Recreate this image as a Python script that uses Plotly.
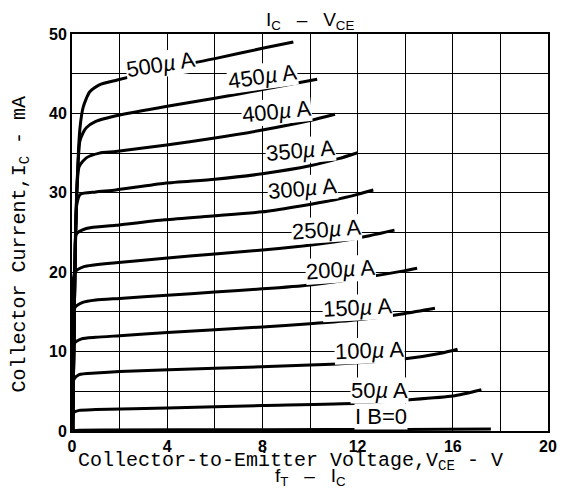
import plotly.graph_objects as go

# Base current labels (µA) and curves: V_CE (V) vs I_C (mA)
labels = ["I B=0", "50", "100", "150", "200", "250", "300", "350", "400", "450", "500"]

v_0 = [0.0, 0.3, 8, 14, 17.6]
i_0 = [0.0, 0.1, 0.15, 0.2, 0.25]

v_50 = [0.03, 0.06, 0.3, 1, 4, 8, 12, 14, 16, 17.2]
i_50 = [0, 2.3, 2.6, 2.7, 2.9, 3.2, 3.5, 3.9, 4.4, 5.2]

v_100 = [0.03, 0.08, 0.3, 1, 2, 6, 10, 12, 14, 15.5, 16.2]
i_100 = [0, 6.5, 7.1, 7.3, 7.5, 7.9, 8.3, 8.6, 9.1, 9.8, 10.3]

v_150 = [0.03, 0.09, 0.4, 1, 2, 4, 8, 10, 12, 14, 15.25]
i_150 = [0, 11.0, 11.6, 11.8, 12.0, 12.4, 13.1, 13.5, 14.0, 14.8, 15.45]

v_200 = [0.03, 0.11, 0.45, 1, 2, 4, 6, 8, 10, 12, 14, 14.5]
i_200 = [0, 15.5, 16.2, 16.5, 16.7, 17.1, 17.5, 17.9, 18.4, 19.2, 20.2, 20.5]

v_250 = [0.03, 0.12, 0.5, 1.84, 3.9, 6, 8, 9.4, 11, 12.5, 13.55]
i_250 = [0, 20.0, 20.7, 21.2, 21.75, 22.3, 22.8, 23.2, 23.8, 24.6, 25.3]

v_300 = [0.03, 0.13, 0.18, 0.6, 1.84, 3.9, 6, 8, 9.4, 11, 12, 12.66]
i_300 = [0, 22.0, 24.8, 25.5, 25.9, 26.6, 27.1, 27.6, 28.25, 29.1, 29.8, 30.35]

v_350 = [0.03, 0.12, 0.2, 0.35, 1, 1.84, 3.9, 6, 8, 10, 11.2, 12.0]
i_350 = [0, 20.0, 28.5, 29.8, 30.1, 30.35, 31.2, 31.7, 32.4, 33.4, 34.3, 35.05]

v_400 = [0.03, 0.12, 0.2, 0.3, 0.6, 1.15, 1.84, 3.9, 6, 8, 10, 11.05]
i_400 = [0, 20.0, 30.0, 33.3, 34.4, 35.0, 35.2, 36.0, 36.9, 37.9, 39.1, 39.9]

v_450 = [0.03, 0.12, 0.2, 0.33, 0.47, 0.6, 1, 2, 4, 6, 8, 10.3]
i_450 = [0, 20.0, 30.0, 36.5, 37.6, 38.2, 39.0, 39.8, 40.9, 41.9, 43.0, 44.3]

v_500 = [0.03, 0.12, 0.2, 0.33, 0.47, 0.74, 1.15, 1.9, 4, 6, 8, 9.3]
i_500 = [0, 20.0, 30.0, 38.0, 40.8, 42.7, 43.6, 44.2, 45.7, 46.9, 48.2, 49.0]

# label anchor positions (V, mA) and tilt
lab_v = [13.0, 12.9, 12.5, 12.0, 11.3, 10.7, 9.7, 9.6, 8.6, 8.0, 3.7]
lab_i = [1.8, 5.1, 10.2, 15.5, 20.3, 25.4, 30.5, 35.3, 40.2, 44.6, 46.2]
lab_ang = [0, 0, -2, -3, -4, -4, -5, -5, -6, -8, -9]

curves = [(v_0, i_0), (v_50, i_50), (v_100, i_100), (v_150, i_150), (v_200, i_200),
          (v_250, i_250), (v_300, i_300), (v_350, i_350), (v_400, i_400),
          (v_450, i_450), (v_500, i_500)]

x_ticks = [0, 4, 8, 12, 16, 20]
y_ticks = [0, 10, 20, 30, 40, 50]

fig = go.Figure()
for (vx, iy) in curves:
    fig.add_trace(go.Scatter(x=vx, y=iy, mode="lines",
                             line=dict(color="black", width=3, shape="spline", smoothing=0.6),
                             showlegend=False, hoverinfo="skip"))

label_font = dict(family="Liberation Sans", size=22, color="black")
for k, name in enumerate(labels):
    txt = name if k == 0 else f"{name}<i>µ</i> A"
    fig.add_annotation(x=lab_v[k], y=lab_i[k], text=txt, showarrow=False,
                       textangle=lab_ang[k], font=label_font,
                       bgcolor="white", borderpad=0)

title_font = dict(family="Liberation Sans", size=19, color="black")
fig.add_annotation(x=0.5, y=1.0, xref="paper", yref="paper", yanchor="top", yshift=27,
                   text="I<sub>C</sub>   –   V<sub>CE</sub>", showarrow=False, font=title_font)
fig.add_annotation(x=0.5, y=0, xref="paper", yref="paper", yanchor="bottom", yshift=-60,
                   text="f<sub>T</sub>   –   I<sub>C</sub>", showarrow=False, font=title_font)

axis_title_font = dict(family="Liberation Mono", size=20, color="black")
fig.add_annotation(x=0.46, y=0, xref="paper", yref="paper", yanchor="middle", yshift=-30,
                   text="Collector-to-Emitter Voltage,V<sub>CE</sub> - V",
                   showarrow=False, font=axis_title_font)
fig.add_annotation(x=0, y=0.47, xref="paper", yref="paper", xanchor="center", xshift=-52,
                   textangle=-90, text="Collector Current,I<sub>C</sub> - mA",
                   showarrow=False, font=axis_title_font)

fig.update_xaxes(range=[0, 20], tickvals=x_ticks, ticktext=[str(t) for t in x_ticks],
                 showgrid=True, gridcolor="black", gridwidth=1,
                 minor=dict(dtick=2, showgrid=True, gridcolor="black", gridwidth=1),
                 showline=True, linecolor="black", linewidth=2, mirror=True,
                 ticks="", zeroline=False, automargin=False, ticklabeloverflow="allow",
                 tickfont=dict(family="Liberation Sans", size=16, color="black", weight="bold"))
fig.update_yaxes(range=[0, 50], tickvals=y_ticks, ticktext=[str(t) for t in y_ticks],
                 showgrid=True, gridcolor="black", gridwidth=1,
                 minor=dict(dtick=5, showgrid=True, gridcolor="black", gridwidth=1),
                 showline=True, linecolor="black", linewidth=2, mirror=True,
                 ticks="", zeroline=False, automargin=False, ticklabeloverflow="allow",
                 tickfont=dict(family="Liberation Sans", size=16, color="black", weight="bold"))

# page body has an 8px margin; keep the figure small enough to stay in the window
fig.update_layout(width=550, height=482, margin=dict(l=64, r=10, t=26, b=59),
                  plot_bgcolor="white", paper_bgcolor="white")

fig.write_html("out.html")
